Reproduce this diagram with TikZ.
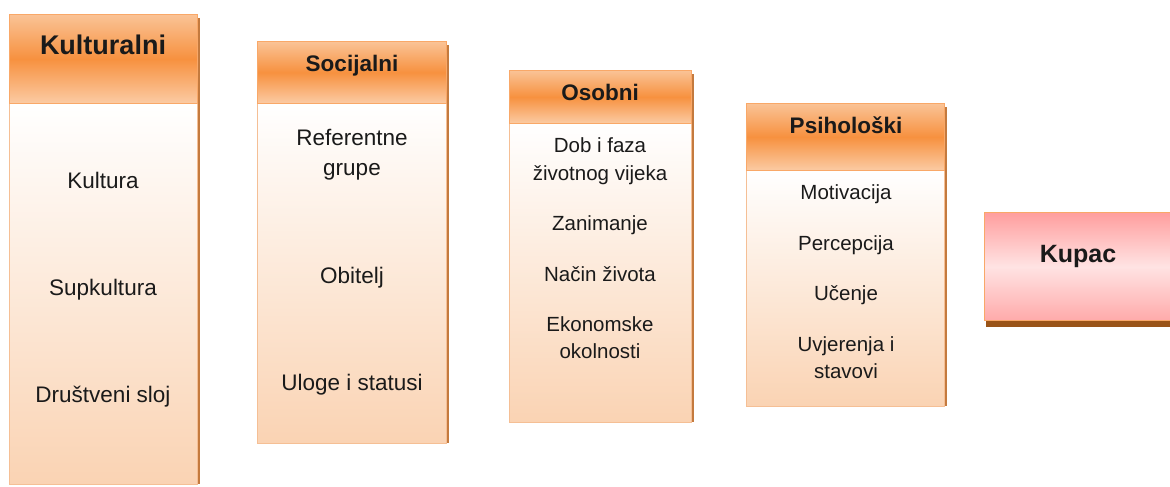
\documentclass[tikz,border=0pt]{standalone}
\usepackage{fontspec}
\setmainfont{Liberation Sans}
\definecolor{hdtop}{HTML}{FAC396}
\definecolor{hdmid}{HTML}{F7913F}
\definecolor{hdbot}{HTML}{FBCBA4}
\definecolor{hdline}{HTML}{F9A868}
\definecolor{bdtop}{HTML}{FFFFFF}
\definecolor{bdbot}{HTML}{FAD3B3}
\definecolor{bdline}{HTML}{F5BF95}
\definecolor{shad}{HTML}{C47A3E}
\definecolor{kutop}{HTML}{FF9E9E}
\definecolor{kumid}{HTML}{FFE3E3}
\definecolor{kubot}{HTML}{FFAAAA}
\definecolor{kuline}{HTML}{F9A868}
\definecolor{kushad}{HTML}{9A5418}
\definecolor{txt}{HTML}{1A1A1A}
\tikzset{
  header/.style={draw=hdline, line width=1pt, top color=hdtop, bottom color=hdbot, middle color=hdmid, anchor=north west, inner sep=0pt},
  bodybox/.style={draw=bdline, line width=1pt, top color=bdtop, bottom color=bdbot, anchor=north west, inner sep=0pt},
  ttl/.style={anchor=base, text=txt, font=\bfseries\fontsize{22.5}{26}\selectfont, inner sep=0pt},
  itm/.style={anchor=base, text=txt, font=\fontsize{20.5}{24}\selectfont, inner sep=0pt},
  itmL/.style={anchor=base, text=txt, font=\fontsize{22.5}{26}\selectfont, inner sep=0pt},
}
\begin{document}
\begin{tikzpicture}[x=1pt,y=-1pt]
\useasboundingbox (0,0) rectangle (1170,487);
% ---------- Kulturalni
\fill[shad] (197,18) rectangle (200,484);
\node[bodybox, minimum width=188pt, minimum height=381pt] (b1) at (9,103) {};
\node[header, minimum width=188pt, minimum height=89pt] (h1) at (9,14) {};
\node[ttl, font=\bfseries\fontsize{27}{30}\selectfont] (t1) at (103,55) {Kulturalni};
\node[itmL] (k1) at (103,188) {Kultura};
\node[itmL] (k2) at (103,295) {Supkultura};
\node[itmL] (k3) at (103,402) {Društveni sloj};
% ---------- Socijalni
\fill[shad] (446,45) rectangle (449,443);
\node[bodybox, minimum width=189pt, minimum height=340pt] (b2) at (257,103) {};
\node[header, minimum width=189pt, minimum height=62pt] (h2) at (257,41) {};
\node[ttl] (t2) at (352,72) {Socijalni};
\node[itmL] (s1a) at (352,145) {Referentne};
\node[itmL] (s1b) at (352,175) {grupe};
\node[itmL] (s2) at (352,283) {Obitelj};
\node[itmL] (s3) at (352,390) {Uloge i statusi};
% ---------- Osobni
\fill[shad] (691,74) rectangle (694,422);
\node[bodybox, minimum width=182pt, minimum height=299pt] (b3) at (509,123) {};
\node[header, minimum width=182pt, minimum height=53pt] (h3) at (509,70) {};
\node[ttl] (t3) at (600,100) {Osobni};
\node[itm] (o1a) at (600,152) {Dob i faza};
\node[itm] (o1b) at (600,180) {životnog vijeka};
\node[itm] (o2) at (600,230) {Zanimanje};
\node[itm] (o3) at (600,281) {Način života};
\node[itm] (o4a) at (600,331) {Ekonomske};
\node[itm] (o4b) at (600,358) {okolnosti};
% ---------- Psiholoski
\fill[shad] (944,107) rectangle (947,406);
\node[bodybox, minimum width=198pt, minimum height=236pt] (b4) at (746,170) {};
\node[header, minimum width=198pt, minimum height=67pt] (h4) at (746,103) {};
\node[ttl] (t4) at (846,133) {Psihološki};
\node[itm] (p1) at (846,199) {Motivacija};
\node[itm] (p2) at (846,250) {Percepcija};
\node[itm] (p3) at (846,300) {Učenje};
\node[itm] (p4a) at (846,351) {Uvjerenja i};
\node[itm] (p4b) at (846,378) {stavovi};
% ---------- Kupac
\fill[kushad] (986,318) rectangle (1172,327);
\node[draw=kuline, line width=1.2pt, top color=kutop, bottom color=kubot, middle color=kumid, anchor=north west, inner sep=0pt, minimum width=190pt, minimum height=108pt] (ku) at (984,212) {};
\node[ttl, font=\bfseries\fontsize{25}{28}\selectfont] (kt) at (1078,262) {Kupac};
\end{tikzpicture}
\end{document}
